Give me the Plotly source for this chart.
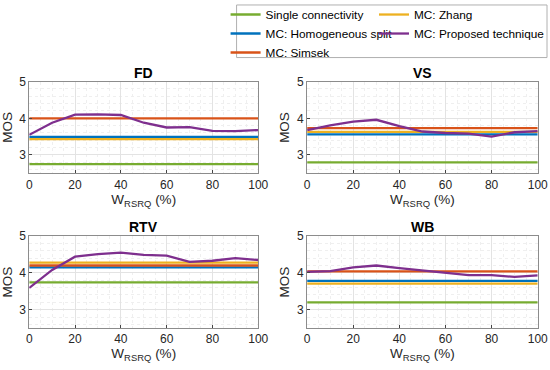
import plotly.graph_objects as go

# ---------------- data ----------------
w_rsrq = [0, 10, 20, 30, 40, 50, 60, 70, 80, 90, 100]
x_range = [0, 100]

panels = ["FD", "VS", "RTV", "WB"]

series_names = ["Single connectivity", "MC: Homogeneous split", "MC: Simsek",
                "MC: Zhang", "MC: Proposed technique"]

single_conn = {"FD": 2.75, "VS": 2.80, "RTV": 3.74, "WB": 3.20}
homog_split = {"FD": 3.49, "VS": 3.56, "RTV": 4.15, "WB": 3.78}
simsek = {"FD": 4.00, "VS": 3.73, "RTV": 4.20, "WB": 4.04}
zhang = {"FD": 3.43, "VS": 3.63, "RTV": 4.28, "WB": 3.71}
proposed = {
    "FD": [3.55, 3.88, 4.10, 4.11, 4.09, 3.88, 3.75, 3.76, 3.66, 3.65, 3.68],
    "VS": [3.68, 3.81, 3.91, 3.96, 3.79, 3.64, 3.60, 3.58, 3.50, 3.62, 3.65],
    "RTV": [3.59, 4.08, 4.44, 4.51, 4.55, 4.49, 4.47, 4.30, 4.33, 4.40, 4.35],
    "WB": [4.03, 4.05, 4.15, 4.20, 4.13, 4.07, 3.99, 3.94, 3.94, 3.89, 3.93],
}

colors = {
    "Single connectivity": "#77AC30",
    "MC: Homogeneous split": "#0072BD",
    "MC: Simsek": "#D95319",
    "MC: Zhang": "#EDB120",
    "MC: Proposed technique": "#7E2F8E",
}
legend_of = {
    "Single connectivity": "legend",
    "MC: Homogeneous split": "legend",
    "MC: Simsek": "legend",
    "MC: Zhang": "legend2",
    "MC: Proposed technique": "legend2",
}

# ---------------- layout geometry ----------------
W, H = 550, 370
def px_x(a, b):
    return [a / W, b / W]
def px_y(top, bottom):
    return [1 - bottom / H, 1 - top / H]

domains = {
    "FD": (px_x(29.3, 258.7), px_y(79.3, 171.7)),
    "VS": (px_x(307.7, 538.7), px_y(79.3, 171.7)),
    "RTV": (px_x(29.3, 258.7), px_y(235, 327.7)),
    "WB": (px_x(307.7, 538.7), px_y(235, 327.7)),
}

fig = go.Figure()
font_family = "Liberation Sans, Arial, sans-serif"

for i, p in enumerate(panels):
    xa = "x" if i == 0 else f"x{i+1}"
    ya = "y" if i == 0 else f"y{i+1}"
    vals = {
        "Single connectivity": [single_conn[p]] * len(x_range),
        "MC: Zhang": [zhang[p]] * len(x_range),
        "MC: Homogeneous split": [homog_split[p]] * len(x_range),
        "MC: Proposed technique": proposed[p],
        "MC: Simsek": [simsek[p]] * len(x_range),
    }
    for name in series_names:
        xs = w_rsrq if name == "MC: Proposed technique" else x_range
        fig.add_trace(go.Scatter(
            x=xs, y=vals[name], mode="lines", name=name,
            line=dict(color=colors[name], width=2.3),
            xaxis=xa, yaxis=ya, showlegend=(i == 0), legend=legend_of[name],
        ))

    axis_common = dict(
        showline=True, mirror=True, linecolor="#8c8c8c", linewidth=1,
        ticks="inside", ticklen=3, tickcolor="#444",
        showgrid=True, gridcolor="#e3e3e3", gridwidth=1,
        zeroline=False, automargin=False,
        tickfont=dict(size=12, color="#262626", family=font_family),
    )
    xd, yd = domains[p]
    xkey = "xaxis" if i == 0 else f"xaxis{i+1}"
    ykey = "yaxis" if i == 0 else f"yaxis{i+1}"
    fig.update_layout({
        xkey: dict(axis_common, domain=xd, range=[0, 100], tickvals=[0, 20, 40, 60, 80, 100],
                   anchor=ya,
                   minor=dict(dtick=5, showgrid=True, gridcolor="#efefef", griddash="dot", ticks=""),
                   title=dict(text="W<sub>RSRQ</sub> (%)", font=dict(size=13.5, color="#262626", family=font_family),
                              standoff=2)),
        ykey: dict(axis_common, domain=yd, range=[2.5, 5], tickvals=[3, 4, 5],
                   anchor=xa,
                   minor=dict(dtick=0.2, tick0=3, showgrid=True, gridcolor="#efefef", griddash="dot", ticks=""),
                   title=dict(text="MOS", font=dict(size=13.5, color="#262626", family=font_family),
                              standoff=4)),
    })
    fig.add_annotation(
        text=f"<b>{p}</b>", xref="paper", yref="paper",
        x=(xd[0] + xd[1]) / 2, y=yd[1] + 9 / H, xanchor="center", yanchor="middle",
        showarrow=False, font=dict(size=14, color="#000", family=font_family),
    )

legend_common = dict(
    orientation="v", xanchor="left", yanchor="top",
    borderwidth=0, bgcolor="rgba(0,0,0,0)",
    font=dict(size=11.8, color="#000", family=font_family),
    itemwidth=30, tracegroupgap=0, traceorder="normal",
)

fig.update_layout(
    width=W, height=H,
    margin=dict(l=0, r=0, t=0, b=0),
    paper_bgcolor="white", plot_bgcolor="white",
    font=dict(family=font_family, size=12, color="#262626"),
    legend=dict(legend_common, x=226 / W, y=1 + 3 / H),
    legend2=dict(legend_common, x=375 / W, y=1 + 3 / H),
    shapes=[dict(type="rect", xref="paper", yref="paper",
                 x0=237 / W, x1=548 / W, y0=1 - 55 / H, y1=1 - 2 / H,
                 line=dict(color="#b0b0b0", width=1), fillcolor="rgba(0,0,0,0)", layer="above")],
)

fig.write_html("out.html", config={"displayModeBar": False},
               post_script="document.body.style.margin='0';")
